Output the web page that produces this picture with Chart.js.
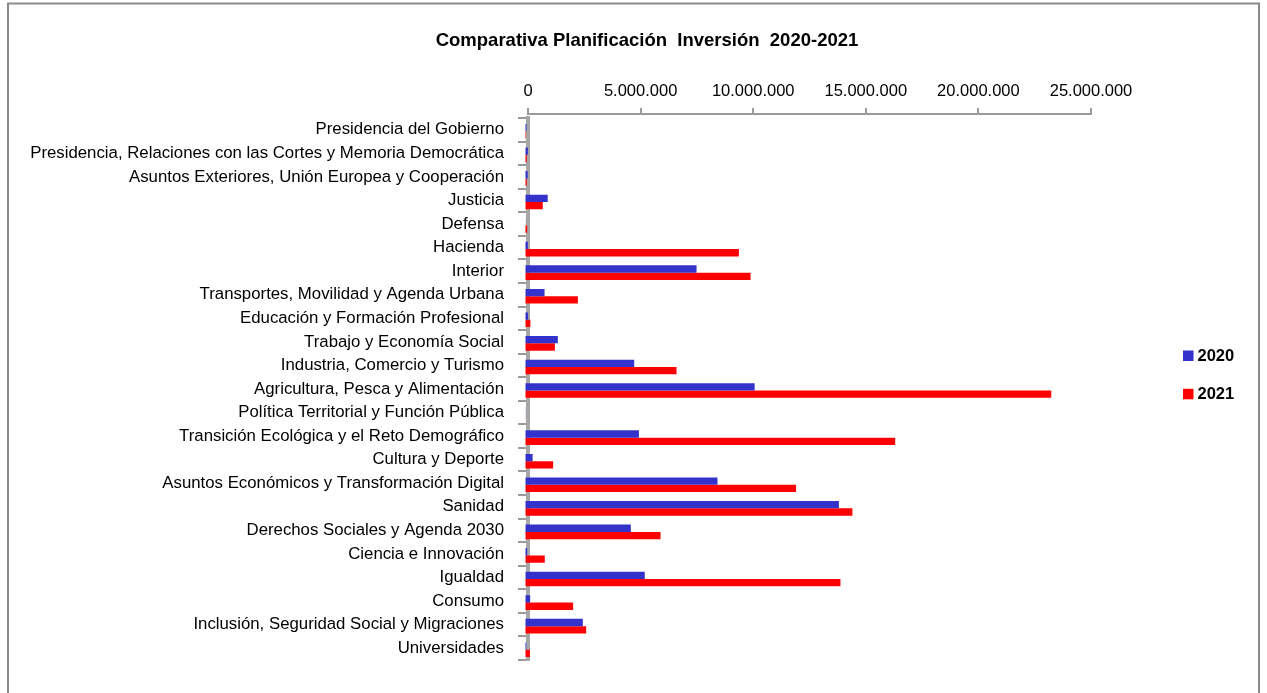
<!DOCTYPE html>
<html>
<head>
<meta charset="utf-8">
<script src="https://cdn.jsdelivr.net/npm/chart.js@4"></script>
<style>
  body { margin: 0; background: #fff; }
  #wrap { position: relative; width: 1267px; height: 693px; }
</style>
</head>
<body>
<div id="wrap"><canvas id="barInversion"></canvas></div>
<script>
const categories = [
  'Presidencia del Gobierno',
  'Presidencia, Relaciones con las Cortes y Memoria Democrática',
  'Asuntos Exteriores, Unión Europea y Cooperación',
  'Justicia',
  'Defensa',
  'Hacienda',
  'Interior',
  'Transportes, Movilidad y Agenda Urbana',
  'Educación y Formación Profesional',
  'Trabajo y Economía Social',
  'Industria, Comercio y Turismo',
  'Agricultura, Pesca y Alimentación',
  'Política Territorial y Función Pública',
  'Transición Ecológica y el Reto Demográfico',
  'Cultura y Deporte',
  'Asuntos Económicos y Transformación Digital',
  'Sanidad',
  'Derechos Sociales y Agenda 2030',
  'Ciencia e Innovación',
  'Igualdad',
  'Consumo',
  'Inclusión, Seguridad Social y Migraciones',
  'Universidades',
]
const inversion2020 = [90000, 150000, 140000, 1030000, 50000, 150000, 7640000, 890000, 160000, 1480000,
  4870000, 10220000, 50000, 5080000, 360000, 8570000, 13960000, 4720000, 120000, 5340000,
  250000, 2590000, 80000]
const inversion2021 = [70000, 100000, 100000, 810000, 120000, 9520000, 10040000, 2370000, 260000, 1350000,
  6750000, 23390000, 40000, 16460000, 1270000, 12060000, 14560000, 6040000, 900000, 14030000,
  2160000, 2740000, 240000]
const xMin = 0
const xMax = 25000000
const xStep = 5000000

const labelFont = { family: 'Liberation Sans', size: 16.8 }

// outer frame like the spreadsheet chart border
const framePlugin = {
  id: 'frame',
  beforeDraw(chart) {
    const ctx = chart.ctx
    ctx.save()
    ctx.fillStyle = '#fff'
    ctx.fillRect(0, 0, chart.width, chart.height)
    ctx.strokeStyle = '#8a8a8a'
    ctx.lineWidth = 2
    ctx.strokeRect(8, 3.5, 1251, 700)
    ctx.restore()
  },
}

// 3D look of the original: bars shifted a bit left/down, top axis sits a bit higher
const depthPlugin = {
  id: 'depth',
  beforeLayout(chart) {
    const xs = chart.scales.x
    if (xs && !xs._lifted) {
      const draw = xs.draw.bind(xs)
      xs.draw = (area) => {
        chart.ctx.save()
        chart.ctx.translate(0, -4)
        draw(area)
        chart.ctx.restore()
      }
      xs._lifted = true
    }
  },
  beforeDatasetsDraw(chart) {
    chart.ctx.save()
    chart.ctx.translate(-3.5, 1.5)
  },
  afterDatasetsDraw(chart) {
    chart.ctx.restore()
  },
}

// legend placed on the right, away from the plot
const sideLegend = {
  id: 'sideLegend',
  afterDraw(chart) {
    const ctx = chart.ctx
    ctx.save()
    ctx.font = 'bold 16.5px "Liberation Sans"'
    ctx.textBaseline = 'middle'
    chart.data.datasets.forEach((ds, i) => {
      const y = 355.5 + i * 38.3
      ctx.fillStyle = ds.backgroundColor
      ctx.fillRect(1183, y - 5, 10.5, 10.5)
      ctx.fillStyle = '#000'
      ctx.fillText(ds.label, 1197.5, y + 1)
    })
    ctx.restore()
  },
}

const barConfig = {
  type: 'bar',
  data: {
    labels: categories,
    datasets: [
      {
        label: '2020',
        data: inversion2020,
        backgroundColor: '#3333CC',
        borderWidth: 0,
      },
      {
        label: '2021',
        data: inversion2021,
        backgroundColor: '#FF0000',
        borderWidth: 0,
      },
    ],
  },
  options: {
    indexAxis: 'y',
    responsive: false,
    animation: false,
    devicePixelRatio: 1,
    categoryPercentage: 0.62,
    barPercentage: 1,
    layout: {
      padding: { left: 27, right: 0, top: 0, bottom: 33 },
    },
    plugins: {
      legend: { display: false },
      tooltip: { enabled: false },
      title: {
        display: true,
        text: 'Comparativa Planificación  Inversión  2020-2021',
        color: '#000',
        font: { family: 'Liberation Sans', size: 18.5, weight: 'bold' },
        padding: { top: 30, bottom: 26 },
      },
    },
    scales: {
      x: {
        position: 'top',
        min: xMin,
        max: xMax,
        ticks: {
          stepSize: xStep,
          color: '#000',
          font: { family: 'Liberation Sans', size: 16.5 },
          padding: 7,
          maxRotation: 0,
          callback: (v) => String(v).replace(/\B(?=(\d{3})+(?!\d))/g, '.'),
        },
        grid: {
          drawOnChartArea: false,
          drawTicks: true,
          tickLength: 6,
          color: '#9a9a9a',
          lineWidth: 2,
        },
        border: { color: '#9a9a9a', width: 2 },
      },
      y: {
        afterFit(scale) {
          scale.width = 501
        },
        ticks: {
          color: '#000',
          font: labelFont,
          padding: 14,
          autoSkip: false,
        },
        grid: {
          drawOnChartArea: false,
          offset: true,
          tickLength: 10,
          color: '#9a9a9a',
          lineWidth: 2,
        },
        border: { color: '#a6a6a6', width: 4 },
      },
      // empty space on the right where the legend sits
      legendSpace: {
        type: 'linear',
        axis: 'y',
        position: 'right',
        afterFit(scale) {
          scale.width = 176
        },
        ticks: { display: false },
        grid: { display: false },
        border: { display: false },
      },
    },
  },
  plugins: [framePlugin, depthPlugin, sideLegend],
}

const canvas = document.getElementById('barInversion')
canvas.width = 1267
canvas.height = 693
window.myBar = new Chart(canvas, barConfig)
</script>
</body>
</html>
